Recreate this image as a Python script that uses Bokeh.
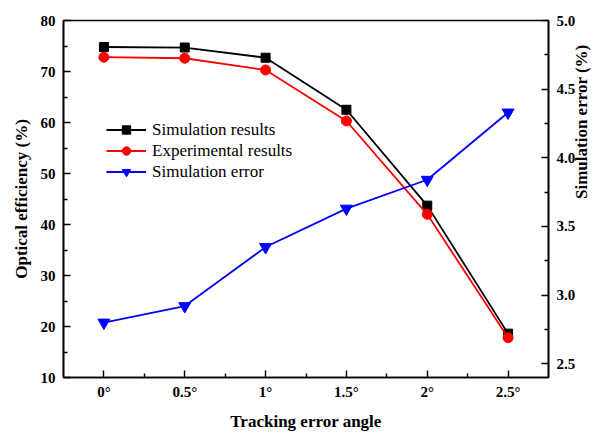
import math
from bokeh.plotting import figure
from bokeh.models import (Range1d, LinearAxis, FixedTicker, NumeralTickFormatter,
                          Legend, LegendItem)
from bokeh.embed import file_html
from bokeh.resources import INLINE

# ---- data ----
angles = [0, 0.5, 1.0, 1.5, 2.0, 2.5]
angle_labels = ["0°", "0.5°", "1°", "1.5°", "2°", "2.5°"]
simulation_results = [74.8, 74.7, 72.7, 62.5, 43.7, 18.6]
experimental_results = [72.8, 72.6, 70.3, 60.3, 42.0, 17.8]
simulation_error = [2.80, 2.92, 3.35, 3.63, 3.84, 4.33]

left_ticks = [10, 20, 30, 40, 50, 60, 70, 80]
left_minor = [15, 25, 35, 45, 55, 65, 75]
right_ticks = [2.5, 3.0, 3.5, 4.0, 4.5, 5.0]
right_minor = [2.75, 3.25, 3.75, 4.25, 4.75]
x_minor = [0.25, 0.75, 1.25, 1.75, 2.25]

SERIF = "Liberation Serif"

p = figure(width=603, height=433, output_backend="svg", toolbar_location=None,
           x_range=Range1d(-0.25, 2.75), y_range=Range1d(10, 80),
           min_border_left=63, min_border_right=50, min_border_top=20,
           min_border_bottom=56)
p.background_fill_color = "white"
p.border_fill_color = "white"
p.xgrid.visible = False
p.ygrid.visible = False
p.outline_line_color = "black"
p.outline_line_width = 1.6
p.outline_line_alpha = 1.0

p.extra_y_ranges = {"err": Range1d(2.4, 5.0)}

def style_axis(ax):
    ax.axis_line_width = 1.6
    ax.axis_line_color = "black"
    ax.major_tick_in = 7
    ax.major_tick_out = 0
    ax.minor_tick_in = 4
    ax.minor_tick_out = 0
    ax.major_tick_line_width = 1.4
    ax.minor_tick_line_width = 1.4
    ax.major_tick_line_color = "black"
    ax.minor_tick_line_color = "black"
    ax.major_label_text_font = SERIF
    ax.major_label_text_font_style = "bold"
    ax.major_label_text_font_size = "15px"
    ax.major_label_text_color = "black"
    ax.axis_label_text_font = SERIF
    ax.axis_label_text_font_style = "bold"
    ax.axis_label_text_font_size = "17px"
    ax.axis_label_text_color = "black"

# x axis
xa = p.xaxis[0]
xa.ticker = FixedTicker(ticks=angles, minor_ticks=x_minor)
xa.major_label_overrides = {a: l for a, l in zip(angles, angle_labels)}
xa.axis_label = "Tracking error angle"
style_axis(xa)
xa.major_label_standoff = 6
xa.axis_label_standoff = 9

# left y axis
ya = p.yaxis[0]
ya.ticker = FixedTicker(ticks=left_ticks, minor_ticks=left_minor)
ya.axis_label = "Optical efficiency (%)"
style_axis(ya)
ya.major_label_standoff = 8
ya.axis_label_standoff = 7

# right y axis, title reading bottom-to-top
ra = LinearAxis(y_range_name="err",
                ticker=FixedTicker(ticks=right_ticks, minor_ticks=right_minor),
                formatter=NumeralTickFormatter(format="0.0"),
                axis_label="Simulation error (%)")
style_axis(ra)
ra.major_label_standoff = 8
ra.axis_label_standoff = 3
ra.axis_label_orientation = math.pi / 2
p.add_layout(ra, "right")

# series
l1 = p.line(angles, simulation_results, line_color="black", line_width=1.8)
s1 = p.scatter(angles, simulation_results, marker="square", size=9,
               fill_color="black", line_color="black")
l2 = p.line(angles, experimental_results, line_color="red", line_width=1.8)
s2 = p.scatter(angles, experimental_results, marker="circle", size=10,
               fill_color="red", line_color="red")
l3 = p.line(angles, simulation_error, line_color="blue", line_width=1.8,
            y_range_name="err")
s3 = p.scatter(angles, simulation_error, marker="inverted_triangle", size=12,
               fill_color="blue", line_color="blue", y_range_name="err")

legend = Legend(items=[
    LegendItem(label="Simulation results", renderers=[l1, s1]),
    LegendItem(label="Experimental results", renderers=[l2, s2]),
    LegendItem(label="Simulation error", renderers=[l3, s3]),
], location=(43, 195))
legend.label_text_font = SERIF
legend.label_text_font_size = "17px"
legend.label_text_color = "black"
legend.glyph_width = 40
legend.glyph_height = 21
legend.label_height = 21
legend.label_standoff = 6
legend.spacing = 0
legend.padding = 0
legend.margin = 0
legend.border_line_alpha = 0
legend.background_fill_alpha = 0
p.add_layout(legend)

open("out.html", "w").write(file_html(p, INLINE))
